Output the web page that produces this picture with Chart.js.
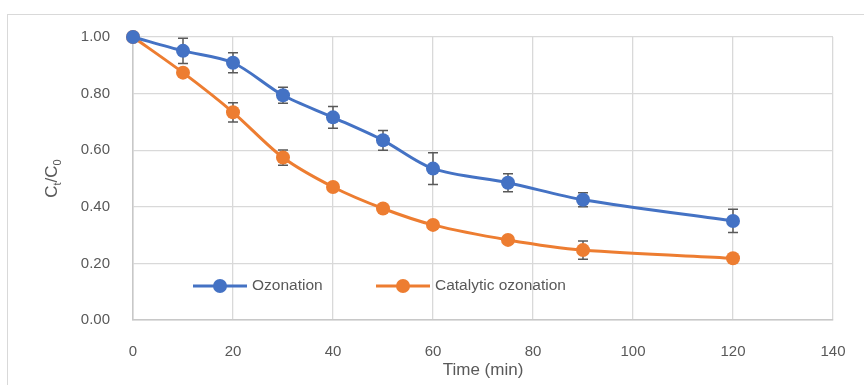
<!DOCTYPE html>
<html>
<head>
<meta charset="utf-8">
<script src="https://cdn.jsdelivr.net/npm/chart.js@4.4.1/dist/chart.umd.min.js"></script>
<style>
    body { margin: 0; background: #fff; }
    #wrap { position: relative; width: 864px; height: 385px; overflow: hidden; }
    #frame { position: absolute; left: 7px; top: 14px; width: 900px; height: 400px;
             border-top: 1.5px solid #d9d9d9; border-left: 1.5px solid #d9d9d9; }
    canvas { position: absolute; left: 0; top: 0; }
</style>
</head>
<body>
<div id="wrap">
    <div id="frame"></div>
    <canvas id="chart" width="864" height="385"></canvas>
</div>
<script>
const time = [0, 10, 20, 30, 40, 50, 60, 75, 90, 120];
const ozonation = [1.00, 0.951, 0.909, 0.794, 0.716, 0.635, 0.535, 0.485, 0.425, 0.350];
const ozonationErr = [0, 0.045, 0.035, 0.028, 0.038, 0.035, 0.056, 0.032, 0.025, 0.041];
const catalytic = [1.00, 0.874, 0.734, 0.574, 0.470, 0.394, 0.336, 0.283, 0.247, 0.218];
const catalyticErr = [0, 0.012, 0.034, 0.027, 0.015, 0.012, 0.015, 0.012, 0.032, 0.012];
const seriesNames = ['Ozonation', 'Catalytic ozonation'];
const xTicks = [0, 20, 40, 60, 80, 100, 120, 140];

const BLUE = '#4472C4';
const ORANGE = '#ED7D31';
const TEXT = '#595959';
const FONT = '"Liberation Sans", Arial, sans-serif';

const toPoints = (ys) => time.map((t, i) => ({ x: t, y: ys[i] }));

// error bars, drawn under each dataset
const errorBars = {
    id: 'errorBars',
    beforeDatasetDraw(chart, args) {
        const errs = chart.data.datasets[args.index].errors;
        if (!errs) return;
        const { ctx, scales: { x, y } } = chart;
        const pts = chart.data.datasets[args.index].data;
        ctx.save();
        ctx.strokeStyle = '#595959';
        ctx.lineWidth = 1.5;
        pts.forEach((p, i) => {
            if (!errs[i]) return;
            const px = x.getPixelForValue(p.x);
            const top = y.getPixelForValue(p.y + errs[i]);
            const bot = y.getPixelForValue(p.y - errs[i]);
            ctx.beginPath();
            ctx.moveTo(px, top); ctx.lineTo(px, bot);
            ctx.moveTo(px - 5, top); ctx.lineTo(px + 5, top);
            ctx.moveTo(px - 5, bot); ctx.lineTo(px + 5, bot);
            ctx.stroke();
        });
        ctx.restore();
    }
};

// legend inside plot + y title with subscripts
const extras = {
    id: 'extras',
    afterDraw(chart) {
        const { ctx, chartArea } = chart;
        ctx.save();
        const ly = 286;
        const items = [
            { x: 193, color: BLUE, label: seriesNames[0] },
            { x: 376, color: ORANGE, label: seriesNames[1] }
        ];
        items.forEach(it => {
            ctx.strokeStyle = it.color;
            ctx.lineWidth = 3;
            ctx.beginPath();
            ctx.moveTo(it.x, ly); ctx.lineTo(it.x + 54, ly);
            ctx.stroke();
            ctx.fillStyle = it.color;
            ctx.beginPath();
            ctx.arc(it.x + 27, ly, 7, 0, Math.PI * 2);
            ctx.fill();
            ctx.fillStyle = TEXT;
            ctx.font = '15.5px ' + FONT;
            ctx.textBaseline = 'middle';
            ctx.textAlign = 'left';
            ctx.fillText(it.label, it.x + 59, ly);
        });

        // C_t / C_0
        const big = '17px ' + FONT, small = '11px ' + FONT;
        const parts = [['C', big, 0], ['t', small, 4], ['/', big, 0], ['C', big, 0], ['0', small, 4]];
        let total = 0;
        parts.forEach(p => { ctx.font = p[1]; total += ctx.measureText(p[0]).width; });
        ctx.translate(57, (chartArea.top + chartArea.bottom) / 2);
        ctx.rotate(-Math.PI / 2);
        ctx.textBaseline = 'alphabetic';
        let cx = -total / 2;
        parts.forEach(p => {
            ctx.font = p[1];
            ctx.fillText(p[0], cx, p[2]);
            cx += ctx.measureText(p[0]).width;
        });
        ctx.restore();
    }
};

new Chart(document.getElementById('chart'), {
    type: 'line',
    data: {
        datasets: [
            {
                label: seriesNames[0],
                data: toPoints(ozonation),
                errors: ozonationErr,
                borderColor: BLUE,
                backgroundColor: BLUE,
                borderWidth: 3,
                tension: 0.3,
                pointRadius: 7,
                pointBorderWidth: 0,
                clip: false
            },
            {
                label: seriesNames[1],
                data: toPoints(catalytic),
                errors: catalyticErr,
                borderColor: ORANGE,
                backgroundColor: ORANGE,
                borderWidth: 3,
                tension: 0.3,
                pointRadius: 7,
                pointBorderWidth: 0,
                clip: false
            }
        ]
    },
    options: {
        responsive: false,
        animation: false,
        layout: { padding: { top: 37, right: 31, bottom: 0, left: 0 } },
        plugins: { legend: { display: false }, tooltip: { enabled: false } },
        scales: {
            x: {
                type: 'linear',
                min: 0,
                max: 140,
                afterBuildTicks: (s) => { s.ticks = xTicks.map(v => ({ value: v })); },
                afterFit: (s) => { s.height = 65; },
                grid: { color: '#d9d9d9', lineWidth: 1.3, drawTicks: true, tickLength: 20,
                        tickColor: 'rgba(0,0,0,0)' },
                border: { color: '#c8c8c8', width: 1.5 },
                ticks: { padding: 3, color: TEXT, font: { family: FONT, size: 15 } },
                title: { display: true, text: 'Time (min)', color: TEXT,
                         font: { family: FONT, size: 17 }, padding: { top: 0, bottom: 4 } }
            },
            y: {
                min: 0,
                max: 1,
                afterFit: (s) => { s.width = 133; },
                grid: { color: '#d9d9d9', lineWidth: 1.3, drawTicks: false },
                border: { color: '#c8c8c8', width: 1.5 },
                ticks: { stepSize: 0.2, padding: 23, color: TEXT, font: { family: FONT, size: 15 },
                         callback: (v) => v.toFixed(2) }
            }
        }
    },
    plugins: [errorBars, extras]
});
</script>
</body>
</html>
